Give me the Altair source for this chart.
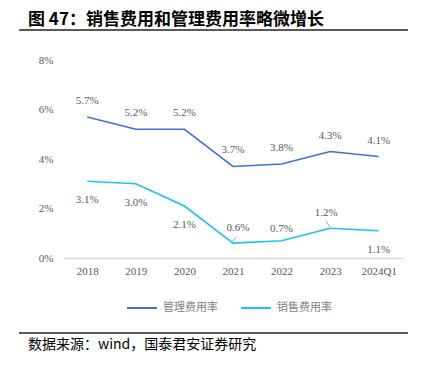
import altair as alt
import pandas as pd

years = ["2018", "2019", "2020", "2021", "2022", "2023", "2024Q1"]
mgmt = [5.7, 5.2, 5.2, 3.7, 3.8, 4.3, 4.1]
sales = [3.1, 3.0, 2.1, 0.6, 0.7, 1.2, 1.1]
series_names = ["管理费用率", "销售费用率"]
colors = ["#3F6FE6", "#19C4F2"]
title_text = "图 47：销售费用和管理费用率略微增长"
source_text = "数据来源：wind，国泰君安证券研究"
y_ticks = [0, 2, 4, 6, 8]

rows = []
for y, v in zip(years, mgmt):
    rows.append({"year": y, "series": series_names[0], "value": v, "label": f"{v:.1f}%"})
for y, v in zip(years, sales):
    rows.append({"year": y, "series": series_names[1], "value": v, "label": f"{v:.1f}%"})
df = pd.DataFrame(rows)

W, H = 340, 198
label_font = "Liberation Serif"
gray = "#595959"

x_enc = alt.X("year:N", sort=years, title=None,
              scale=alt.Scale(type="point", padding=0.5),
              axis=alt.Axis(labelAngle=0, ticks=False, domainColor="#D9D9D9",
                            domainWidth=1.5, labelPadding=7, grid=False))
y_enc = alt.Y("value:Q", title=None,
              scale=alt.Scale(domain=[0, 8], nice=False),
              axis=alt.Axis(values=y_ticks, labelExpr="datum.value + '%'",
                            domain=False, ticks=False, grid=False, labelPadding=10))

base = alt.Chart(df).encode(x=x_enc, y=y_enc)

lines = base.mark_line(strokeWidth=1.6).encode(
    color=alt.Color("series:N", sort=series_names,
                    scale=alt.Scale(domain=series_names, range=colors),
                    legend=alt.Legend(title=None, orient="none", legendX=63, legendY=232,
                                      direction="horizontal", symbolType="stroke",
                                      symbolSize=900, symbolStrokeWidth=2,
                                      labelFont="Noto Sans CJK SC", labelFontSize=11,
                                      labelColor="#7F7F7F", labelOffset=5,
                                      columnPadding=19))
)

txt = dict(font=label_font, fontSize=11, color=gray)
S = series_names[1]

def sel(series, yrs):
    arr = ",".join(f"'{y}'" for y in yrs)
    return f"datum.series == '{series}' && indexof([{arr}], datum.year) >= 0"

m_labels = base.transform_filter(sel(series_names[0], years)).mark_text(
    dy=-16, **txt).encode(text="label:N")

s_below = base.transform_filter(sel(S, ["2018", "2019", "2020", "2024Q1"])).mark_text(
    dy=19, **txt).encode(text="label:N")

s_2021 = base.transform_filter(sel(S, ["2021"])).mark_text(
    dy=-15, dx=5, **txt).encode(text="label:N")

s_2022 = base.transform_filter(sel(S, ["2022"])).mark_text(
    dy=-12, **txt).encode(text="label:N")

s_2023 = base.transform_filter(sel(S, ["2023"])).mark_text(
    dy=-15, dx=-4, **txt).encode(text="label:N")

lead_2021 = base.transform_filter(sel(S, ["2021"])).mark_rule(
    color="#A6A6A6", strokeWidth=1, xOffset=-1, yOffset=-1,
    x2Offset=3, y2Offset=-6).encode(x2="year:N", y2="value:Q")

lead_2023 = base.transform_filter(sel(S, ["2023"])).mark_rule(
    color="#A6A6A6", strokeWidth=1, xOffset=0, yOffset=-1,
    x2Offset=-4, y2Offset=-7).encode(x2="year:N", y2="value:Q")

one = pd.DataFrame({"t": [title_text], "s": [source_text]})
deco = alt.Chart(one)
title_mark = deco.mark_text(align="left", baseline="middle", font="Noto Sans CJK SC",
                            fontSize=17, fontWeight="bold", color="#000000").encode(
    x=alt.value(-35), y=alt.value(-40), text="t:N")
source_mark = deco.mark_text(align="left", baseline="middle", font="Noto Sans CJK SC",
                             fontSize=14, color="#000000").encode(
    x=alt.value(-35), y=alt.value(285), text="s:N")
rule_top = deco.mark_rule(color="#222222", strokeWidth=1.5).encode(
    x=alt.value(-44), x2=alt.value(345), y=alt.value(-30))
rule_bot = deco.mark_rule(color="#222222", strokeWidth=1.5).encode(
    x=alt.value(-44), x2=alt.value(345), y=alt.value(273))

chart = alt.layer(
    lines, lead_2021, lead_2023, m_labels, s_below, s_2021, s_2022, s_2023,
    title_mark, source_mark, rule_top, rule_bot
).properties(
    width=W, height=H,
    autosize=alt.AutoSizeParams(type="none"),
    padding={"left": 55, "top": 52, "right": 11, "bottom": 100},
).configure_view(stroke=None).configure_axis(
    labelFont=label_font, labelFontSize=11, labelColor=gray
)

chart.save("out.html", embed_options={"renderer": "svg", "actions": False})
